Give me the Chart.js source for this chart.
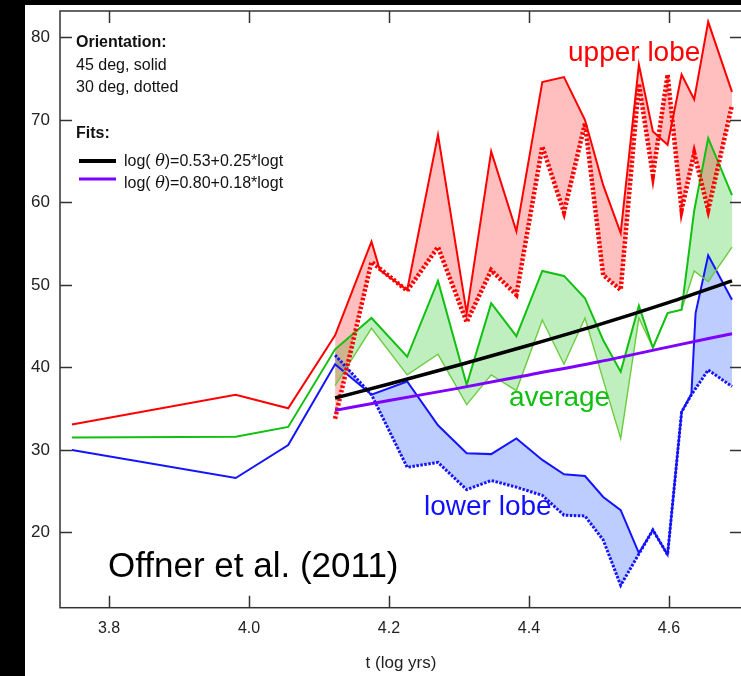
<!DOCTYPE html>
<html>
<head>
<meta charset="utf-8">
<script src="https://cdn.jsdelivr.net/npm/chart.js@4/dist/chart.umd.min.js"></script>
<style>
  html, body { margin: 0; padding: 0; background: #000; width: 741px; height: 676px; overflow: hidden; }
  #panel { position: absolute; left: 25px; top: 5px; width: 720px; height: 671px; background: #fff; }
  canvas { display: block; }
</style>
</head>
<body>
<div id="panel"><canvas id="chart" width="720" height="671"></canvas></div>
<script>
// Outflow opening angle vs. time (Offner et al. 2011)

// tick labels
const xTicks = [3.8, 4.0, 4.2, 4.4, 4.6];
const yTicks = [20, 30, 40, 50, 60, 70, 80];

// upper lobe, 45 deg (solid)
const tUpper45 = [3.747, 3.981, 4.056, 4.123, 4.175, 4.187, 4.226, 4.270, 4.311, 4.346, 4.382, 4.419, 4.450, 4.480, 4.506, 4.531, 4.557, 4.577, 4.598, 4.618, 4.636, 4.656, 4.690];
const upper45  = [33.1, 36.7, 35.05, 43.9, 55.25, 51.8, 49.4, 68.2, 46.6, 66.2, 56.5, 74.6, 75.2, 70.0, 62.1, 56.3, 76.7, 68.6, 67.0, 75.5, 72.5, 81.9, 73.4];

// upper lobe, 30 deg (dotted)
const tUpper30 = [4.123, 4.175, 4.226, 4.270, 4.311, 4.346, 4.382, 4.419, 4.450, 4.480, 4.506, 4.531, 4.557, 4.577, 4.598, 4.618, 4.636, 4.656, 4.690];
const upper30  = [33.8, 52.8, 49.3, 54.6, 45.5, 51.8, 48.8, 66.8, 58.8, 69.6, 51.2, 49.4, 74.4, 63.3, 75.5, 59.1, 66.0, 59.1, 71.8];

// average, 45 deg
const tAvg45 = [3.747, 3.981, 4.056, 4.123, 4.175, 4.226, 4.270, 4.311, 4.346, 4.382, 4.419, 4.450, 4.480, 4.506, 4.531, 4.557, 4.577, 4.598, 4.618, 4.636, 4.656, 4.690];
const avg45  = [31.5, 31.6, 32.8, 42.2, 46.0, 41.3, 50.5, 37.9, 47.8, 43.8, 51.7, 51.1, 48.4, 43.3, 39.5, 47.5, 42.4, 46.6, 47.0, 59.0, 67.8, 60.9];

// average, 30 deg
const tAvg30 = [4.123, 4.175, 4.226, 4.270, 4.311, 4.346, 4.382, 4.419, 4.450, 4.480, 4.506, 4.531, 4.557, 4.577, 4.598, 4.618, 4.636, 4.656, 4.690];
const avg30  = [37.8, 44.75, 39.1, 41.6, 35.5, 39.1, 37.2, 45.75, 40.4, 46.0, 38.5, 31.4, 46.0, 42.4, 46.6, 47.0, 51.7, 50.4, 54.6];

// lower lobe, 45 deg
const tLower45 = [3.747, 3.981, 4.056, 4.123, 4.175, 4.226, 4.270, 4.311, 4.346, 4.382, 4.419, 4.450, 4.480, 4.506, 4.531, 4.557, 4.577, 4.598, 4.618, 4.632, 4.638, 4.656, 4.690];
const lower45  = [30.0, 26.6, 30.6, 40.4, 36.7, 38.3, 33.0, 29.6, 29.5, 31.4, 28.8, 27.05, 26.85, 24.3, 22.7, 17.5, 20.3, 17.3, 34.6, 36.8, 46.6, 53.6, 48.2];

// lower lobe, 30 deg
const tLower30 = [4.123, 4.175, 4.226, 4.270, 4.311, 4.346, 4.382, 4.419, 4.450, 4.480, 4.506, 4.531, 4.557, 4.577, 4.598, 4.618, 4.632, 4.656, 4.690];
const lower30  = [41.5, 36.7, 27.9, 28.5, 25.2, 26.3, 25.5, 24.5, 22.1, 22.0, 19.1, 13.6, 17.4, 20.3, 17.3, 34.6, 36.7, 39.7, 37.7];

// fitted relations
const tFit = [4.123, 4.2, 4.3, 4.4, 4.5, 4.6, 4.690];
const fit45 = [36.3, 38.0, 40.3, 42.7, 45.2, 47.9, 50.5];   // log(theta)=0.53+0.25*logt
const fit30 = [34.8, 36.0, 37.5, 39.1, 40.7, 42.5, 44.1];   // log(theta)=0.80+0.18*logt

const pts = (ts, vs) => ts.map((t, i) => ({ x: t, y: vs[i] }));

const FONT = '"Liberation Sans", Arial, Helvetica, sans-serif';
const OFF_X = 25, OFF_Y = 5;   // canvas position on the page

// frame with inward ticks on all four sides
const framePlugin = {
  id: 'frame',
  afterDatasetsDraw(chart) {
    const { ctx, chartArea: a, scales: { x, y } } = chart;
    ctx.save();
    ctx.strokeStyle = '#333';
    ctx.lineWidth = 1.5;
    ctx.strokeRect(a.left, a.top, a.right - a.left, a.bottom - a.top);
    ctx.beginPath();
    x.ticks.forEach(t => {
      const p = Math.round(x.getPixelForValue(t.value)) + 0.5;
      ctx.moveTo(p, a.bottom); ctx.lineTo(p, a.bottom - 12);
      ctx.moveTo(p, a.top); ctx.lineTo(p, a.top + 12);
    });
    y.ticks.forEach(t => {
      const p = Math.round(y.getPixelForValue(t.value)) + 0.5;
      ctx.moveTo(a.left, p); ctx.lineTo(a.left + 12, p);
      ctx.moveTo(a.right, p); ctx.lineTo(a.right - 12, p);
    });
    ctx.stroke();
    ctx.restore();
  }
};

// key and labels
const notesPlugin = {
  id: 'notes',
  afterDraw(chart) {
    const ctx = chart.ctx;
    const X = v => v - OFF_X, Y = v => v - OFF_Y;
    ctx.save();
    ctx.textBaseline = 'alphabetic';
    ctx.textAlign = 'left';

    ctx.fillStyle = '#111';
    ctx.font = 'bold 16px ' + FONT;
    ctx.fillText('Orientation:', X(76), Y(47));
    ctx.font = '16px ' + FONT;
    ctx.fillText('45 deg, solid', X(76), Y(70));
    ctx.fillText('30 deg, dotted', X(76), Y(92));
    ctx.font = 'bold 16px ' + FONT;
    ctx.fillText('Fits:', X(76), Y(138));

    ctx.lineWidth = 4;
    ctx.strokeStyle = '#000';
    ctx.beginPath(); ctx.moveTo(X(79), Y(161)); ctx.lineTo(X(116), Y(161)); ctx.stroke();
    ctx.lineWidth = 3;
    ctx.strokeStyle = '#7f00ff';
    ctx.beginPath(); ctx.moveTo(X(79), Y(179)); ctx.lineTo(X(116), Y(179)); ctx.stroke();

    const fitLabel = (x0, yb, tail) => {
      ctx.font = '16px ' + FONT;
      ctx.fillText('log( ', X(x0), Y(yb));
      let w = ctx.measureText('log( ').width;
      ctx.font = 'italic 16px "DejaVu Serif", serif';
      ctx.fillText('\u03B8', X(x0 + w), Y(yb));
      w += ctx.measureText('\u03B8').width;
      ctx.font = '16px ' + FONT;
      ctx.fillText(tail, X(x0 + w), Y(yb));
    };
    ctx.fillStyle = '#111';
    fitLabel(124, 166, ')=0.53+0.25*logt');
    fitLabel(124, 188, ')=0.80+0.18*logt');

    ctx.font = '28px ' + FONT;
    ctx.fillStyle = '#ff0000';
    ctx.fillText('upper lobe', X(568), Y(61));
    ctx.fillStyle = '#10c010';
    ctx.fillText('average', X(509), Y(406));
    ctx.fillStyle = '#1010ff';
    ctx.fillText('lower lobe', X(424), Y(515));

    ctx.font = '35px ' + FONT;
    ctx.fillStyle = '#000';
    ctx.fillText('Offner et al. (2011)', X(108), Y(577));
    ctx.restore();
  }
};

const line = (label, data, color, width, extra) => Object.assign({
  label, data, borderColor: color, borderWidth: width, pointRadius: 0,
  tension: 0, fill: false, borderCapStyle: 'butt', borderJoinStyle: 'miter'
}, extra || {});

// keep the plot frame exactly where the layout puts it
const noEdgePadding = s => {
  s.paddingTop = 0; s.paddingBottom = 0; s.paddingLeft = 0; s.paddingRight = 0;
};

new Chart(document.getElementById('chart'), {
  type: 'line',
  data: {
    datasets: [
      line('upper lobe 45', pts(tUpper45, upper45), '#ff0000', 2, { fill: 1, backgroundColor: 'rgba(255,0,0,0.25)' }),
      line('upper lobe 30', pts(tUpper30, upper30), '#ff0000', 4.5, { borderDash: [2.5, 2] }),
      line('average 45', pts(tAvg45, avg45), '#12c012', 2, { fill: 3, backgroundColor: 'rgba(0,190,0,0.25)' }),
      line('average 30', pts(tAvg30, avg30), '#6ccc40', 1.4),
      line('lower lobe 45', pts(tLower45, lower45), '#1414ff', 2, { fill: 5, backgroundColor: 'rgba(40,90,255,0.3)' }),
      line('lower lobe 30', pts(tLower30, lower30), '#1414ff', 3, { borderDash: [2.5, 1.5] }),
      line('fit 45', pts(tFit, fit45), '#000000', 3.5, { order: -1, cubicInterpolationMode: 'monotone' }),
      line('fit 30', pts(tFit, fit30), '#7f00ff', 3, { order: -1, cubicInterpolationMode: 'monotone' })
    ]
  },
  options: {
    responsive: false,
    animation: false,
    devicePixelRatio: 1,
    layout: { padding: { left: 0, top: 6, right: 3, bottom: 0 } },
    plugins: {
      legend: { display: false },
      tooltip: { enabled: false },
      filler: { drawTime: 'beforeDatasetsDraw' }
    },
    scales: {
      x: {
        type: 'linear',
        min: 3.73, max: 4.7043,
        grid: { display: false, drawTicks: false },
        border: { display: false },
        afterBuildTicks: s => { s.ticks = xTicks.map(v => ({ value: v })); },
        afterFit: s => { s.height = 68.3; noEdgePadding(s); },
        ticks: {
          padding: 11, color: '#222', maxRotation: 0, autoSkip: false,
          font: { family: FONT, size: 16 },
          callback: v => Number(v).toFixed(1)
        },
        title: {
          display: true, text: 't (log yrs)', color: '#222',
          font: { family: FONT, size: 17 },
          padding: { top: 0, bottom: 2 }
        }
      },
      y: {
        type: 'linear',
        min: 10.885, max: 83.21,
        grid: { display: false, drawTicks: false },
        border: { display: false },
        afterBuildTicks: s => { s.ticks = yTicks.map(v => ({ value: v })); },
        afterFit: s => { s.width = 35; noEdgePadding(s); },
        ticks: {
          padding: 10, color: '#222',
          font: { family: FONT, size: 17 },
          callback: v => String(v)
        }
      }
    }
  },
  plugins: [framePlugin, notesPlugin]
});
</script>
</body>
</html>
